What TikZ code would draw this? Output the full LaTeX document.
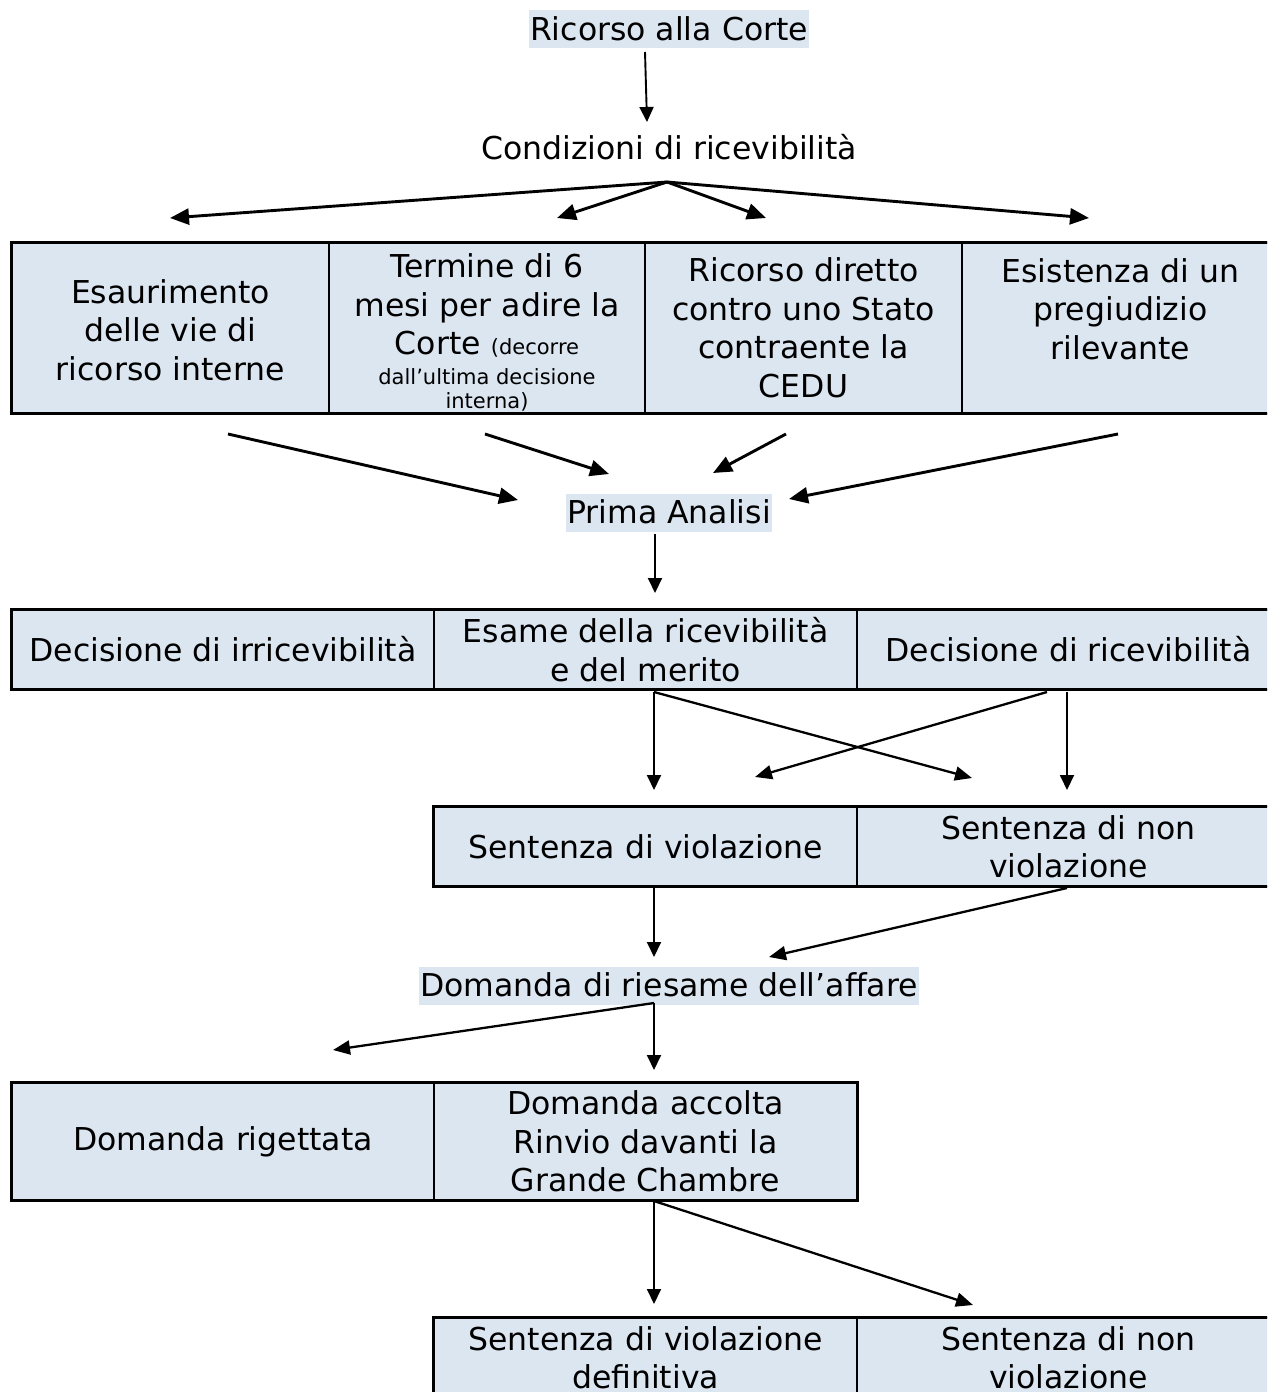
\documentclass[tikz,border=0pt]{standalone}
\usepackage{fontspec}
\setmainfont{DejaVu Sans}
\usetikzlibrary{arrows.meta}
\definecolor{cellfill}{HTML}{DCE6F1}
\newcommand{\bigtxt}{\fontsize{31.5}{38.5}\selectfont}
\newcommand{\smalltxt}{\fontsize{21}{24}\selectfont}
\begin{document}
\begin{tikzpicture}[x=1pt,y=-1pt,
  cell/.style={draw, line width=1.6pt, fill=cellfill, inner sep=0pt, align=center, font=\bigtxt},
  hl/.style={fill=cellfill, inner xsep=1pt, inner ysep=0pt, text height=30pt, text depth=8pt, font=\bigtxt},
  plain/.style={inner sep=0pt, text height=28pt, text depth=10pt, font=\bigtxt},
  thickarrow/.style={line width=2.9pt, -{Triangle[length=19pt,width=16pt]}},
  midarrow/.style={line width=2.3pt, -{Triangle[length=17pt,width=14pt]}},
  thinarrow/.style={line width=1.9pt, -{Triangle[length=15pt,width=14pt]}},
  outerframe/.style={line width=2.6pt},
  innerframe/.style={line width=2pt}
]
\useasboundingbox (0,0) rectangle (1267,1392);
\clip (0,0) rectangle (1267,1392);

% top labels
\node[hl] (ric) at (669,29) {Ricorso alla Corte};
\node[plain] (cond) at (669,150.5) {Condizioni di ricevibilità};

% row 1
\node[cell, minimum width=317pt, minimum height=170pt] (c1) at (170.5,328) {\rule{0pt}{28pt}Esaurimento\\delle vie di\\ricorso interne};
\node[cell, minimum width=316pt, minimum height=170pt] (c2) at (487,328) {\rule{0pt}{33pt}Termine di 6\\mesi per adire la\\Corte {\smalltxt (decorre}\\[-8.5pt]{\smalltxt dall’ultima decisione}\\[-14.5pt]{\smalltxt interna)}};
\node[cell, minimum width=317pt, minimum height=170pt] (c3) at (803.5,328) {Ricorso diretto\\contro uno Stato\\contraente la\\CEDU};
\node[cell, minimum width=317pt, minimum height=170pt] (c4) at (1120.5,328) {Esistenza di un\\pregiudizio\\rilevante\\\mbox{}};
\draw[outerframe] (c1.north west) rectangle (c4.south east);

\node[hl] (prima) at (669,512.5) {Prima Analisi};

% row 2
\node[cell, minimum width=422pt, minimum height=79pt] (d1) at (223,649.5) {Decisione di irricevibilità};
\node[cell, minimum width=423pt, minimum height=79pt] (d2) at (645.5,649.5) {Esame della ricevibilità\\e del merito};
\node[cell, minimum width=423pt, minimum height=79pt] (d3) at (1068.5,649.5) {Decisione di ricevibilità};
\draw[outerframe] (d1.north west) rectangle (d3.south east);

% row 3
\node[cell, minimum width=423pt, minimum height=79pt] (s1) at (645.5,846.5) {Sentenza di violazione};
\node[cell, minimum width=423pt, minimum height=79pt] (s2) at (1068.5,846.5) {Sentenza di non\\violazione};
\draw[innerframe] (s1.north west) rectangle (s2.south east);

\node[hl] (dom) at (669,985.5) {Domanda di riesame dell’affare};

% row 4
\node[cell, minimum width=422pt, minimum height=117pt] (g1) at (223,1141.5) {Domanda rigettata};
\node[cell, minimum width=423pt, minimum height=117pt] (g2) at (645.5,1141.5) {Domanda accolta\\Rinvio davanti la\\Grande Chambre};
\draw[innerframe] (g1.north west) rectangle (g2.south east);

% row 5
\node[cell, minimum width=423pt, minimum height=79pt] (f1) at (645.5,1357.5) {Sentenza di violazione\\definitiva};
\node[cell, minimum width=423pt, minimum height=79pt] (f2) at (1068.5,1357.5) {Sentenza di non\\violazione};
\draw[innerframe] (f1.north west) rectangle (f2.south east);

% connector points
\coordinate (ricout) at (645,52);
\coordinate (condin) at (647,122);
\coordinate (condout) at (667,182);
\coordinate (fan1) at (170,218);
\coordinate (fan2) at (557,218);
\coordinate (fan3) at (766,218);
\coordinate (fan4) at (1089,218);
\coordinate (c1out) at (228,434);
\coordinate (c2out) at (485,434);
\coordinate (c3out) at (786,434);
\coordinate (c4out) at (1118,434);
\coordinate (pin1) at (518,500);
\coordinate (pin2) at (609,474);
\coordinate (pin3) at (713,473);
\coordinate (pin4) at (789,499);
\coordinate (primaout) at (655,534);
\coordinate (d1in) at (655,593);
\coordinate (d2out) at (654,692);
\coordinate (d3outa) at (1047,692);
\coordinate (d3outb) at (1067,692);
\coordinate (s1ina) at (654,790);
\coordinate (s1inb) at (755,777);
\coordinate (s2ina) at (972,778);
\coordinate (s2inb) at (1067,790);
\coordinate (s1out) at (654,888);
\coordinate (s2out) at (1067,888);
\coordinate (domina) at (654,957);
\coordinate (dominb) at (769,957);
\coordinate (domout) at (654,1003);
\coordinate (g1in) at (333,1050);
\coordinate (g2in) at (654,1070);
\coordinate (g2out) at (654,1201);
\coordinate (f1in) at (654,1304);
\coordinate (f2in) at (973,1305);

% connectors
\draw[thinarrow] (ricout) -- (condin);
\draw[thickarrow] (condout) -- (fan1);
\draw[thickarrow] (condout) -- (fan2);
\draw[thickarrow] (condout) -- (fan3);
\draw[thickarrow] (condout) -- (fan4);
\draw[thickarrow] (c1out) -- (pin1);
\draw[thickarrow] (c2out) -- (pin2);
\draw[thickarrow] (c3out) -- (pin3);
\draw[thickarrow] (c4out) -- (pin4);
\draw[thinarrow] (primaout) -- (d1in);
\draw[thinarrow] (d2out) -- (s1ina);
\draw[midarrow] (d2out) -- (s2ina);
\draw[midarrow] (d3outa) -- (s1inb);
\draw[thinarrow] (d3outb) -- (s2inb);
\draw[thinarrow] (s1out) -- (domina);
\draw[midarrow] (s2out) -- (dominb);
\draw[midarrow] (domout) -- (g1in);
\draw[thinarrow] (domout) -- (g2in);
\draw[thinarrow] (g2out) -- (f1in);
\draw[midarrow] (g2out) -- (f2in);
\end{tikzpicture}
\end{document}
